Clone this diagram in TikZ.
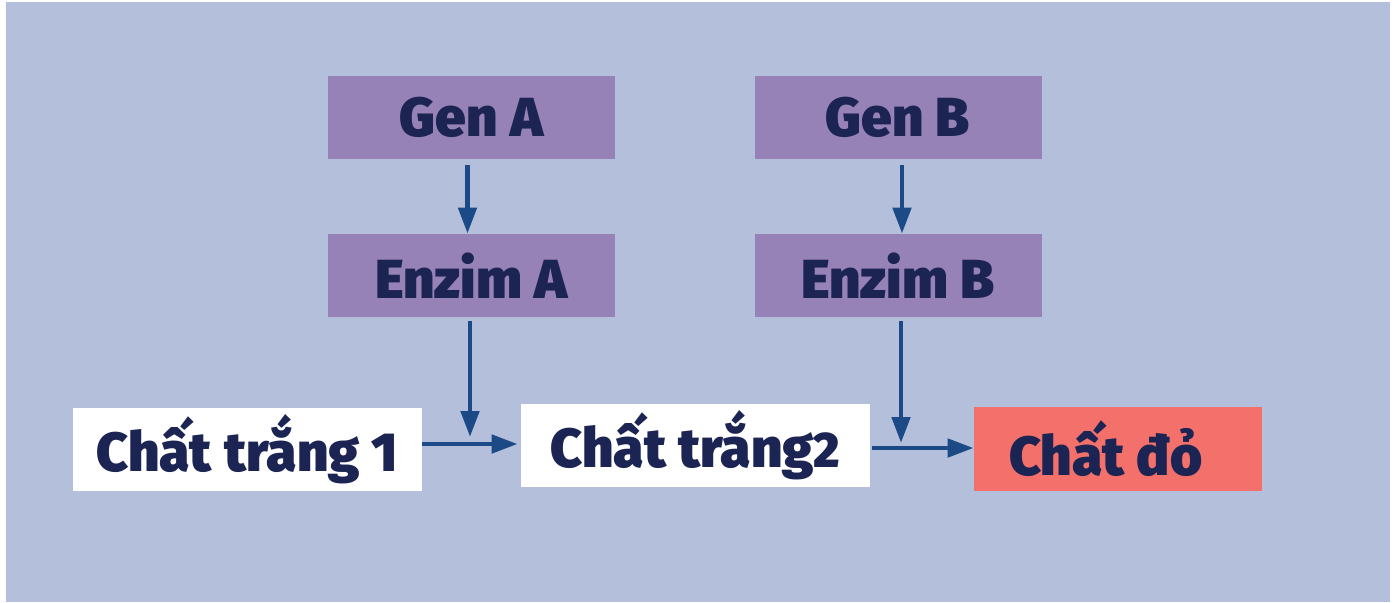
\documentclass[tikz,border=0pt]{standalone}
\usepackage{fontspec}
\newfontfamily\heavy{Fira Sans Black}
\usetikzlibrary{arrows.meta}
\definecolor{bgblue}{HTML}{B4C0DB}
\definecolor{boxpurple}{HTML}{9682B6}
\definecolor{boxred}{HTML}{F4706B}
\definecolor{txtnavy}{HTML}{1B2452}
\definecolor{arrblue}{HTML}{1B4A86}
\tikzset{
  box/.style={rectangle, inner sep=0pt, text=txtnavy, font=\heavy\fontsize{27.5}{30}\selectfont},
  purplebox/.style={box, fill=boxpurple, minimum width=143.5pt, minimum height=41.5pt},
  whitebox/.style={box, fill=white, minimum width=174.5pt, minimum height=41.5pt},
  redbox/.style={box, fill=boxred, minimum width=144pt, minimum height=42pt},
  arr/.style={draw=arrblue, line width=2.4pt, -{Triangle[length=13pt,width=9pt]}},
}
\begin{document}
\begin{tikzpicture}[x=0.5pt,y=-0.5pt]
\useasboundingbox (0,0) rectangle (1395,602);
\fill[white] (0,0) rectangle (1395,602);
\fill[bgblue] (6,2) rectangle (1390,602);
\node[purplebox] (genA) at (471.5,117.5) {Gen A};
\node[purplebox] (enzA) at (471.5,275.5) {Enzim A};
\node[purplebox] (genB) at (898,117.5) {Gen B};
\node[purplebox] (enzB) at (898,275.5) {Enzim B};
\node[whitebox] (ct1) at (247.5,449) {Chất trắng 1};
\node[whitebox] (ct2) at (695.5,445.5) {Chất trắng{\fontsize{25}{28}\selectfont 2}};
\node[redbox] (cd) at (1118,449) {\hspace*{-12pt}Chất đỏ};
\coordinate (jA) at (470,444);
\coordinate (jB) at (901,448);
\draw[arr, shorten <=3pt] ([xshift=-2pt]genA.south) -- ([xshift=-2pt]enzA.north);
\draw[arr, shorten <=3pt] ([xshift=2pt]genB.south) -- ([xshift=2pt]enzB.north);
\draw[arr, shorten <=2pt, shorten >=3.5pt] (enzA.south -| jA) -- (jA);
\draw[arr, shorten <=2pt, shorten >=2.5pt] (enzB.south -| jB) -- (jB);
\draw[arr, shorten >=1.5pt] (ct1.east |- jA) -- (ct2.west |- jA);
\draw[arr, shorten <=1pt] (ct2.east |- jB) -- (cd.west |- jB);
\end{tikzpicture}
\end{document}
